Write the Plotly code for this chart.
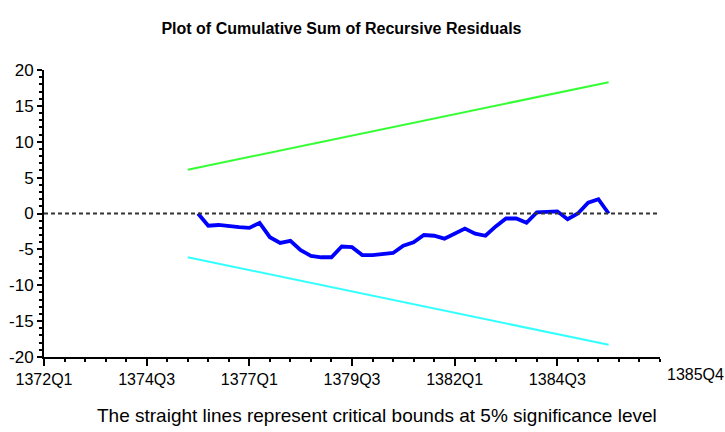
import plotly.graph_objects as go

# ---- data (quarter index 0 = 1372Q1) ----
tick_positions = [0, 10, 20, 30, 40, 50]
tick_labels = ["1372Q1", "1374Q3", "1377Q1", "1379Q3", "1382Q1", "1384Q3"]
end_label = "1385Q4"
axis_end = 60

y_tick_values = [20, 15, 10, 5, 0, -5, -10, -15, -20]
y_tick_labels = ["20", "15", "10", "5", "0", "-5", "-10", "-15", "-20"]

cusum_quarters = list(range(15, 56))
cusum_values = [0.0, -1.7, -1.6, -1.8, -1.9, -2.0, -1.3, -3.3, -4.1, -3.8,
                -5.1, -5.9, -6.1, -6.1, -4.6, -4.7, -5.8, -5.8, -5.6, -5.5,
                -4.5, -4.0, -3.0, -3.1, -3.5, -2.8, -2.1, -2.8, -3.1, -1.8,
                -0.7, -0.7, -1.3, 0.15, 0.2, 0.3, -0.8, 0.0, 1.5, 2.0, 0.0]

bound_quarters = [14, 55]
upper_bound = [6.1, 18.3]
lower_bound = [-6.1, -18.3]

FONT = "Liberation Sans, Arial, sans-serif"

fig = go.Figure()
fig.add_trace(go.Scatter(x=bound_quarters, y=upper_bound, mode="lines",
                         line=dict(color="#33ff33", width=2), hoverinfo="skip"))
fig.add_trace(go.Scatter(x=bound_quarters, y=lower_bound, mode="lines",
                         line=dict(color="#33ffff", width=2), hoverinfo="skip"))
fig.add_hline(y=0, line=dict(color="#333333", width=2, dash="4px,3px"))
fig.add_trace(go.Scatter(x=cusum_quarters, y=cusum_values, mode="lines",
                         line=dict(color="#0000ff", width=3.8)))

common_x = dict(range=[0, axis_end], showgrid=False, zeroline=False,
                tickvals=tick_positions, ticktext=tick_labels, automargin=False)
common_y = dict(range=[-20, 20], showgrid=False, zeroline=False,
                tickvals=y_tick_values, ticktext=y_tick_labels, automargin=False)

fig.update_layout(
    width=725, height=432,
    margin=dict(l=44, r=65, t=70, b=75),
    paper_bgcolor="white", plot_bgcolor="white",
    showlegend=False,
    font=dict(family=FONT, color="black"),
    title=dict(text="<b>Plot of Cumulative Sum of Recursive Residuals</b>",
               x=0.471, xanchor="center", y=0.935, yanchor="middle",
               xref="container", yref="container", automargin=False,
               font=dict(family=FONT, size=16, color="black")),
    xaxis=dict(**common_x, showline=True, linecolor="black", linewidth=2,
               ticks="outside", ticklen=7, tickwidth=1.5, tickcolor="black",
               tickfont=dict(family=FONT, size=16, color="black"),
               minor=dict(ticks="outside", ticklen=3, tickwidth=1.5,
                          tickcolor="black", dtick=2, tick0=0, showgrid=False)),
    xaxis2=dict(**common_x, overlaying="x", anchor="y", side="bottom",
                showline=False, showticklabels=False,
                ticks="inside", ticklen=7, tickwidth=1.5, tickcolor="black",
                minor=dict(ticks="inside", ticklen=3, tickwidth=1.5,
                           tickcolor="black", dtick=2, tick0=0, showgrid=False)),
    yaxis=dict(**common_y, showline=True, linecolor="black", linewidth=2,
               ticks="outside", ticklen=5, tickwidth=1.5, tickcolor="black",
               tickfont=dict(family=FONT, size=17, color="black"),
               minor=dict(ticks="outside", ticklen=3, tickwidth=1.5,
                          tickcolor="black", dtick=1, tick0=0, showgrid=False)),
    yaxis2=dict(**common_y, overlaying="y", anchor="x", side="left",
                showline=False, showticklabels=False,
                ticks="inside", ticklen=5, tickwidth=1.5, tickcolor="black",
                minor=dict(ticks="inside", ticklen=3, tickwidth=1.5,
                           tickcolor="black", dtick=1, tick0=0, showgrid=False)),
)

fig.add_annotation(x=axis_end, y=-0.062, xref="x", yref="paper",
                   text=end_label, showarrow=False, xanchor="left",
                   yanchor="middle", xshift=5,
                   font=dict(family=FONT, size=16, color="black"))
fig.add_annotation(x=0.54, y=-0.205, xref="paper", yref="paper",
                   text="The straight lines represent critical bounds at 5% significance level",
                   showarrow=False, xanchor="center", yanchor="middle",
                   font=dict(family=FONT, size=19, color="black"))

fig.write_html("out.html", config={"displayModeBar": False},
               post_script="document.body.style.margin='0';")
